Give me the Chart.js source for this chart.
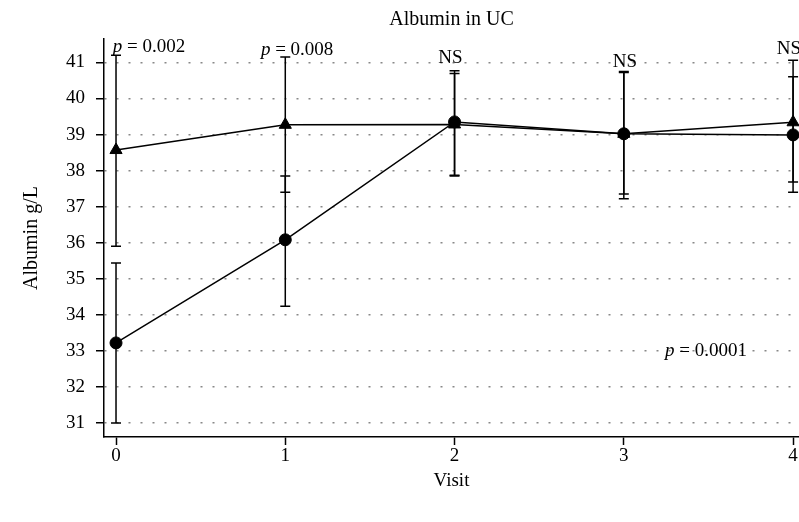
<!DOCTYPE html>
<html>
<head>
<meta charset="utf-8">
<script src="https://cdn.jsdelivr.net/npm/chart.js@4.4.0/dist/chart.umd.min.js"></script>
<style>
  html, body { margin: 0; padding: 0; background: #fff; overflow: hidden; }
</style>
</head>
<body>
<canvas id="myChart" width="799" height="522"></canvas>
<script>
// datos
const visitas = [0, 1, 2, 3, 4];
const yTicks = [31, 32, 33, 34, 35, 36, 37, 38, 39, 40, 41];

const triMedia = [38.57, 39.27, 39.28, 39.02, 39.34];
const triSup = [41.2, 41.15, 40.69, 40.72, 41.06];
const triInf = [35.9, 37.4, 37.87, 37.35, 37.68];

const circMedia = [33.22, 36.08, 39.35, 39.02, 38.99];
const circSup = [35.44, 37.85, 40.77, 40.75, 40.6];
const circInf = [31.0, 34.24, 37.85, 37.22, 37.4];

const notasTexto = ['p = 0.002', 'p = 0.008', 'NS', 'NS', 'NS', 'p = 0.0001'];
const notasX = [0.195, 1.07, 1.976, 3.007, 3.976, 3.485];
const notasY = [41.42, 41.35, 41.12, 41.02, 41.36, 33.0];

const titulo = 'Albumin in UC';
const fuente = '"Liberation Serif", "DejaVu Serif", serif';

function puntos(medias) {
	return visitas.map((v, i) => ({ x: v, y: medias[i] }));
}

const barrasError = {
	id: 'barrasError',
	beforeDatasetsDraw(chart) {
		const ctx = chart.ctx;
		const xs = chart.scales.x, ys = chart.scales.y;
		ctx.save();
		ctx.strokeStyle = '#000';
		ctx.lineWidth = 1.5;
		chart.data.datasets.forEach(ds => {
			ds.sup.forEach((s, i) => {
				let px = xs.getPixelForValue(visitas[i]);
				let pTop = ys.getPixelForValue(s);
				let pBot = ys.getPixelForValue(ds.inf[i]);
				ctx.beginPath();
				ctx.moveTo(px, pTop);
				ctx.lineTo(px, pBot);
				ctx.moveTo(px - 5, pTop);
				ctx.lineTo(px + 5, pTop);
				ctx.moveTo(px - 5, pBot);
				ctx.lineTo(px + 5, pBot);
				ctx.stroke();
			});
		});
		ctx.restore();
	}
};

const textos = {
	id: 'textos',
	afterDraw(chart) {
		const ctx = chart.ctx;
		const xs = chart.scales.x, ys = chart.scales.y;
		const area = chart.chartArea;
		ctx.save();
		ctx.fillStyle = '#000';
		ctx.textBaseline = 'middle';
		ctx.textAlign = 'center';
		ctx.font = '20px ' + fuente;
		ctx.fillText(titulo, (area.left + area.right) / 2, 20);

		ctx.textAlign = 'left';
		notasTexto.forEach((t, i) => {
			let cx = xs.getPixelForValue(notasX[i]);
			let cy = ys.getPixelForValue(notasY[i]);
			if (t.startsWith('p ')) {
				let resto = t.slice(1);
				ctx.font = 'italic 19px ' + fuente;
				let w1 = ctx.measureText('p').width;
				ctx.font = '19px ' + fuente;
				let w2 = ctx.measureText(resto).width;
				let x0 = cx - (w1 + w2) / 2;
				ctx.font = 'italic 19px ' + fuente;
				ctx.fillText('p', x0, cy);
				ctx.font = '19px ' + fuente;
				ctx.fillText(resto, x0 + w1, cy);
			} else {
				ctx.font = '19px ' + fuente;
				let w = ctx.measureText(t).width;
				ctx.fillText(t, cx - w / 2, cy);
			}
		});
		ctx.restore();
	}
};

let canva = document.getElementById('myChart').getContext('2d');

const myChart = new Chart(canva, {
	type: 'line',
	data: {
		datasets: [{
			label: 'A',
			data: puntos(triMedia),
			sup: triSup,
			inf: triInf,
			borderColor: '#000',
			backgroundColor: '#000',
			borderWidth: 1.5,
			pointStyle: 'triangle',
			pointRadius: 7,
			pointBorderWidth: 1,
			tension: 0
		}, {
			label: 'B',
			data: puntos(circMedia),
			sup: circSup,
			inf: circInf,
			borderColor: '#000',
			backgroundColor: '#000',
			borderWidth: 1.5,
			pointStyle: 'circle',
			pointRadius: 6,
			pointBorderWidth: 1,
			tension: 0
		}]
	},
	options: {
		responsive: false,
		devicePixelRatio: 1,
		animation: false,
		layout: { autoPadding: false, padding: { top: 39, right: 0, left: 0, bottom: 0 } },
		plugins: {
			legend: { display: false },
			tooltip: { enabled: false },
			title: { display: false }
		},
		scales: {
			x: {
				type: 'linear',
				min: -0.071,
				max: 4.035,
				afterFit: s => { s.height = 85; },
				afterBuildTicks: s => { s.ticks = visitas.map(v => ({ value: v })); },
				border: { color: '#000', width: 1.5 },
				grid: { drawOnChartArea: false, tickLength: 8, tickColor: '#000', tickWidth: 1.5 },
				ticks: { color: '#000', padding: 0, font: { family: fuente, size: 19 } },
				title: { display: true, text: 'Visit', color: '#000', padding: { top: 0, bottom: 30 }, font: { family: fuente, size: 19 } }
			},
			y: {
				min: 30.61,
				max: 41.65,
				afterFit: s => { s.width = 104; },
				afterBuildTicks: s => { s.ticks = yTicks.map(v => ({ value: v })); },
				border: { color: '#000', width: 1.5, dash: [2, 10] },
				grid: {
					color: '#888',
					lineWidth: 1.5,
					tickLength: 8,
					tickColor: '#000',
					tickWidth: 1.5,
					tickBorderDash: []
				},
				ticks: { color: '#000', padding: 11, font: { family: fuente, size: 19 } },
				title: { display: true, text: 'Albumin g/L', color: '#000', padding: { top: 20, bottom: 0 }, font: { family: fuente, size: 20 } }
			}
		}
	},
	plugins: [barrasError, textos]
});
</script>
</body>
</html>
